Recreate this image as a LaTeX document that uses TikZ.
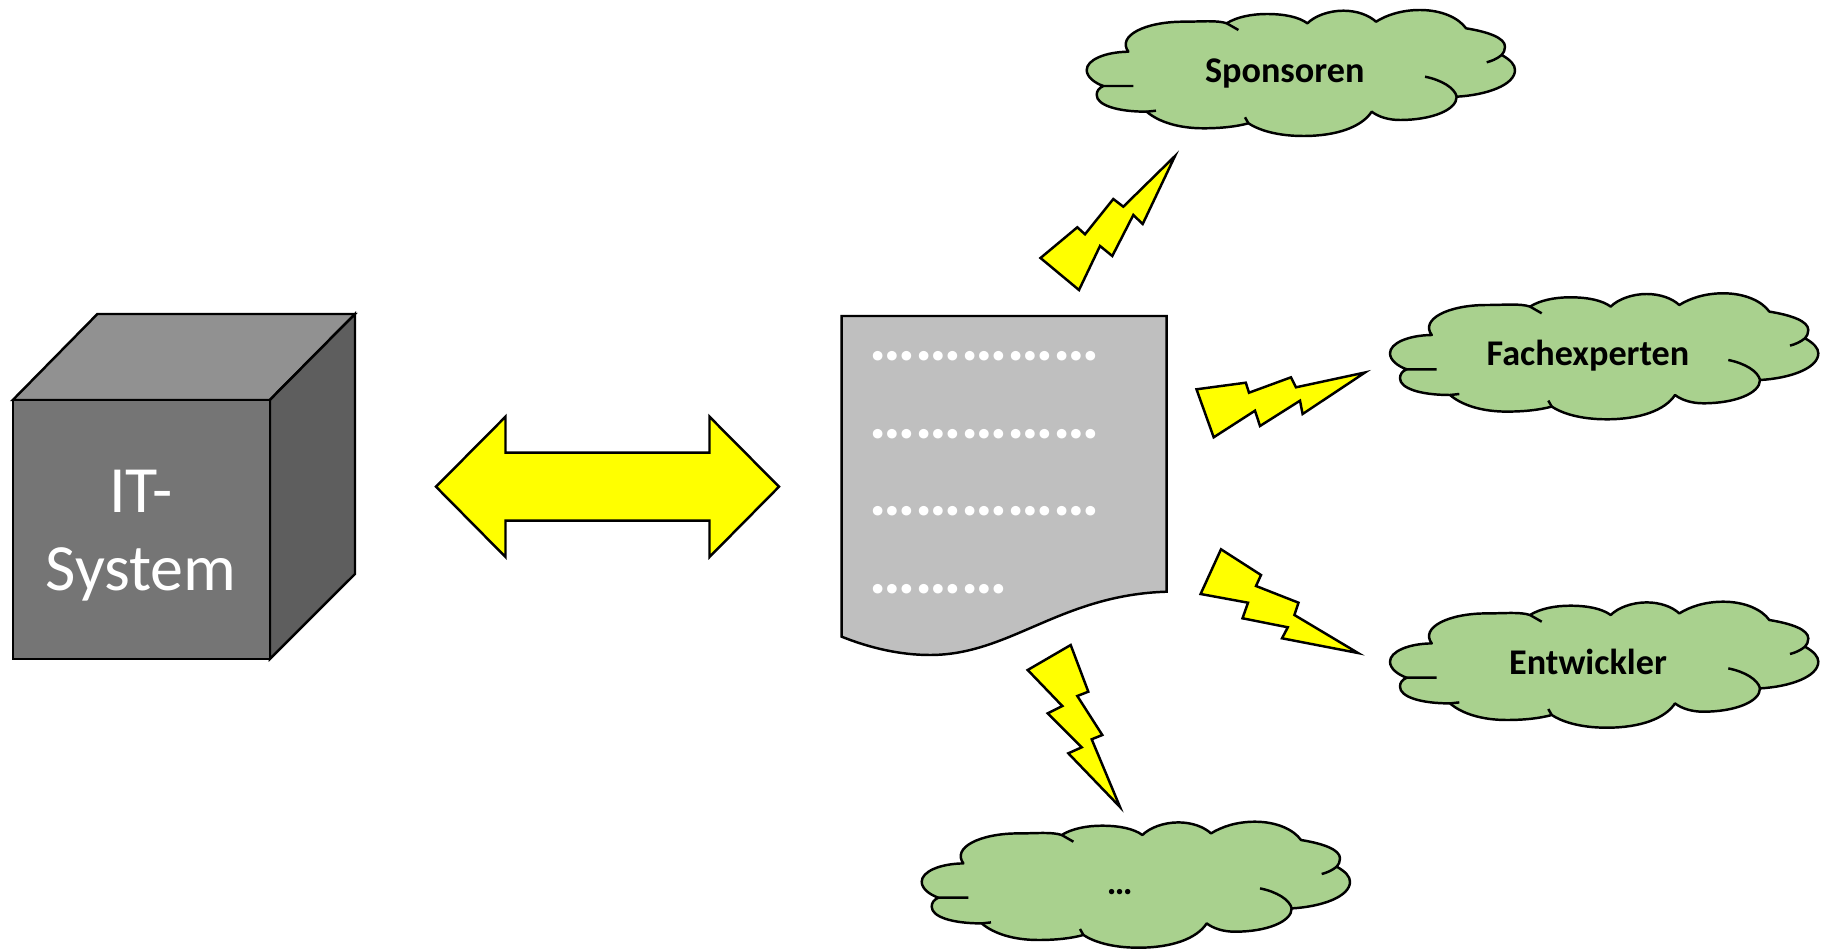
\documentclass[tikz,border=0pt]{standalone}
\usepackage{fontspec}
\setmainfont{Carlito}
\usepackage{tikz}
\usetikzlibrary{positioning}
\definecolor{wolkengruen}{HTML}{A9D18E}
\definecolor{blitzgelb}{HTML}{FFFF00}
\definecolor{blattgrau}{HTML}{BFBFBF}
\tikzset{
    linie/.style={draw=black, line width=1.4pt, line join=miter},
    blitz/.style={linie, fill=blitzgelb},
    pfeil/.style={linie, fill=blitzgelb},
    blatt/.style={linie, fill=blattgrau},
    wolkenrand/.style={line width=1.4pt, line join=round},
    wolkentext/.style={anchor=base, inner sep=0pt, font=\fontsize{20.6pt}{24pt}\selectfont\bfseries},
    zeile/.style={anchor=base west, inner sep=0pt, text=white, font=\fontsize{36.8pt}{44pt}\selectfont\bfseries},
    boxtext/.style={align=center, inner sep=0pt, text=white, font=\fontsize{37.6pt}{44.4pt}\selectfont},
    pics/wolke/.style={code={
        \draw[wolkenrand, fill=wolkengruen] (0,0)
            .. controls (0,-10) and (18,-18) .. (41.7,-18.3)
            .. controls (30,-34) and (58,-48.3) .. (96.7,-48.3)
            .. controls (115,-48.3) and (130,-50) .. (140,-46.7)
            .. controls (150,-53) and (165,-56) .. (180,-56)
            .. controls (198,-56) and (212,-53) .. (220.7,-46.7)
            .. controls (228,-54) and (242,-59.3) .. (256.7,-59.3)
            .. controls (270,-59.3) and (282,-55) .. (289.3,-48.3)
            .. controls (300,-55) and (315,-60) .. (333.3,-60)
            .. controls (355,-60) and (372,-52) .. (379.3,-41.7)
            .. controls (402,-38) and (418.3,-32) .. (418.3,-23.3)
            .. controls (418.3,-20) and (417,-17) .. (415,-15)
            .. controls (424,-10) and (428.3,-5) .. (428.3,0)
            .. controls (428.3,15) and (400,25) .. (370,26.7)
            .. controls (370,40) and (345,50) .. (313.3,50)
            .. controls (302,50) and (292,47) .. (285,41.7)
            .. controls (275,57) and (250,66) .. (216.7,66)
            .. controls (190,66) and (172,60) .. (161.7,53.3)
            .. controls (150,56.5) and (135,58.3) .. (116.7,58.3)
            .. controls (92,58.3) and (72,52) .. (60,41.7)
            .. controls (30,41.7) and (10,35) .. (10,25)
            .. controls (10,21) and (12,18) .. (16.7,16)
            .. controls (8,13) and (0,7) .. (0,0) -- cycle;
        \draw[wolkenrand] (140,-46.7) -- (151.7,-40)
            (415,-15) .. controls (410,-11) and (405,-9) .. (400,-7.7)
            (338.3,6.7) .. controls (355,10) and (368,18) .. (370,26.7)
            (161.7,53.3) -- (158.3,47.3)
            (60,41.7) -- (69.3,40.7)
            (16.7,16) .. controls (26,16) and (36,16) .. (46.7,16);
        \node[wolkentext] (-text) at (198,12.3) {#1};
    }}
}

\begin{document}
\begin{tikzpicture}[x=0.02cm, y=-0.02cm]
    \useasboundingbox (0,0) rectangle (1823,949);

    % Wuerfel
    \draw[linie, fill=black!43] (12.8,400) -- (97.4,314) -- (355,314) -- (269.8,400) -- cycle;
    \draw[linie, fill=black!63] (269.8,400) -- (355,314) -- (355,574) -- (269.8,659) -- cycle;
    \draw[linie, fill=black!54] (12.8,400) rectangle (269.8,659);
    \node[boxtext] (system) at (141,536) {IT-\\System};

    \draw[pfeil] (436,486.7) -- (505.5,416.7) -- (505.5,452.7) -- (709.5,452.7) -- (709.5,416.7)
        -- (779,486.7) -- (709.5,557) -- (709.5,520.7) -- (505.5,520.7) -- (505.5,557) -- cycle;

    % Dokument
    \draw[blatt] (841.7,316) -- (1166.7,316) -- (1166.7,591.7)
        .. controls (1060,595) and (1010,655) .. (930,655)
        .. controls (900,655) and (870,648) .. (841.7,636.7) -- cycle;
    \node[zeile] (zeile1) at (869,361) {……………};
    \node[zeile, below=77.5*0.02cm of zeile1.base west, anchor=base west] (zeile2) {……………};
    \node[zeile, below=77.5*0.02cm of zeile2.base west, anchor=base west] (zeile3) {……………};
    \node[zeile, below=77.5*0.02cm of zeile3.base west, anchor=base west] (zeile4) {………};

    % Blitze
    \draw[blitz] (1175,156) -- (1142.7,224) -- (1133.3,215) -- (1112.3,256) -- (1100,246) -- (1079,290)
        -- (1040.5,258) -- (1077.3,227.3) -- (1085,234.3) -- (1113.3,199) -- (1123.3,206.7) -- cycle;
    \draw[blitz] (1196.5,389.3) -- (1245.8,382.7) -- (1249,392.7) -- (1291,377.3) -- (1296,387.3) -- (1365,372.5)
        -- (1302.6,414) -- (1300,400.7) -- (1260,426) -- (1255,410.7) -- (1213.7,437.3) -- cycle;
    \draw[blitz] (1221,549.3) -- (1261,575) -- (1256,586) -- (1298.5,602.7) -- (1294.4,615) -- (1358,653)
        -- (1282,638.3) -- (1287.8,627.3) -- (1242.5,618.3) -- (1248,602.7) -- (1200.6,594) -- cycle;
    \draw[blitz] (1070.7,645) -- (1088.3,691.7) -- (1077.3,696) -- (1102.3,735) -- (1091.7,739.3) -- (1120,807)
        -- (1068.3,753.3) -- (1081.7,747.3) -- (1047.7,713.3) -- (1062.3,706) -- (1027.7,670) -- cycle;

    % Wolken
    \pic (sponsoren) at (1086.7,70) {wolke=Sponsoren};
    \pic (fachexperten) at (1390,353.3) {wolke=Fachexperten};
    \pic (entwickler) at (1390,661.7) {wolke=Entwickler};
    \pic (weitere) at (921.7,881.7) {wolke=…};
\end{tikzpicture}
\end{document}
